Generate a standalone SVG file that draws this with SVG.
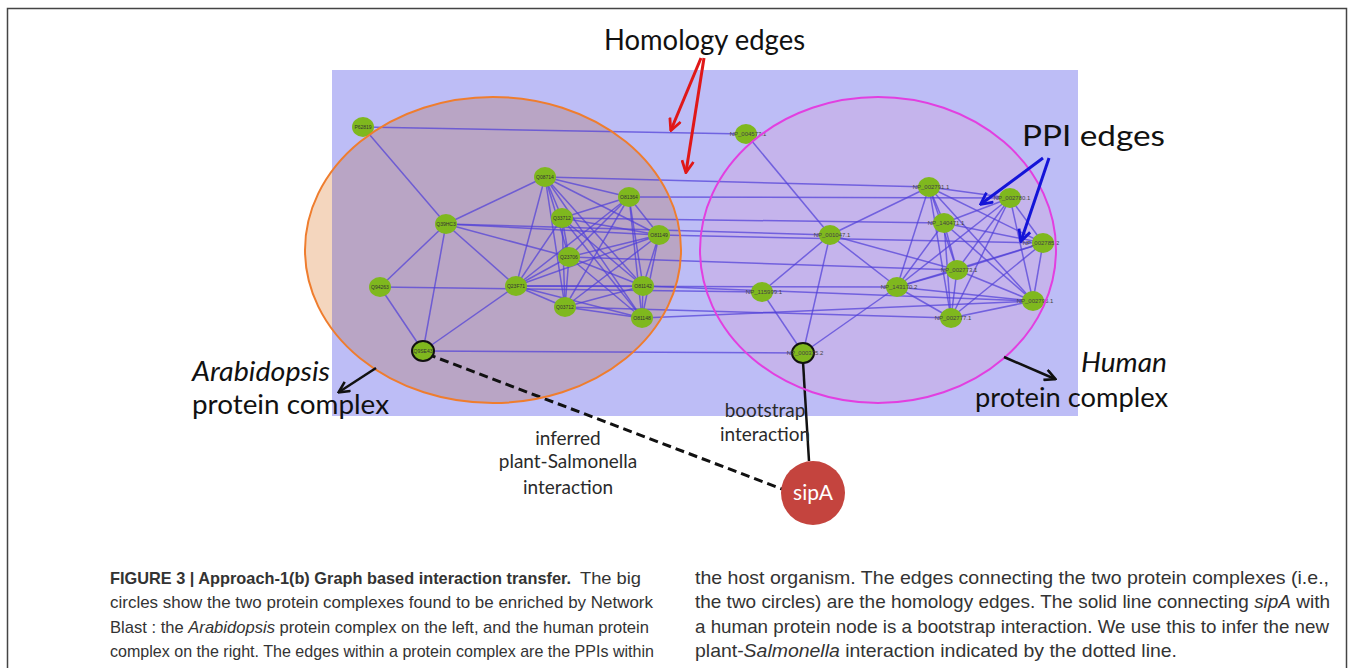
<svg xmlns="http://www.w3.org/2000/svg" width="1354" height="668" viewBox="0 0 1354 668">
  <style>
    .lbl { font-family: Lato, "Open Sans", "Liberation Sans", sans-serif; fill: #111; }
    .small { font-family: Lato, "Open Sans", "Liberation Sans", sans-serif; fill: #2a2a2a; font-size: 19px; }
    .cap { font-family: "Liberation Sans", Arial, sans-serif; font-size: 17px; fill: #333; }
    .capr { font-family: "Liberation Sans", Arial, sans-serif; font-size: 19px; fill: #333; }
    .edge { stroke: #5040d8; stroke-width: 1.5; stroke-opacity: 0.72; fill: none; }
    .node { fill: #7fb81e; }
    .hub { fill: #7fb81e; stroke: #111; stroke-width: 2; }
    .nl { font-family: "Liberation Sans", Arial, sans-serif; font-size: 5px; fill: #333; text-anchor: middle; }
    .nr { font-family: "Liberation Sans", Arial, sans-serif; font-size: 6px; fill: #444; text-anchor: middle; }
  </style>
  <defs>
    <marker id="vRed" viewBox="0 0 12 12" refX="10.5" refY="6" markerWidth="14" markerHeight="14" markerUnits="userSpaceOnUse" orient="auto">
      <path d="M1,1 L11,6 L1,11" fill="none" stroke="#e01818" stroke-width="2.4"/>
    </marker>
    <marker id="vBlue" viewBox="0 0 12 12" refX="10.5" refY="6" markerWidth="14" markerHeight="14" markerUnits="userSpaceOnUse" orient="auto">
      <path d="M1,1 L11,6 L1,11" fill="none" stroke="#1414d8" stroke-width="2.4"/>
    </marker>
    <marker id="vBlack" viewBox="0 0 12 12" refX="10.5" refY="6" markerWidth="13" markerHeight="13" markerUnits="userSpaceOnUse" orient="auto">
      <path d="M1,1 L11,6 L1,11" fill="none" stroke="#111" stroke-width="2.4"/>
    </marker>
    <clipPath id="outsideRect">
      <rect x="0" y="0" width="332" height="668"/>
    </clipPath>
  </defs>

  <rect width="1354" height="668" fill="#ffffff"/>
  <!-- page frame -->
  <rect x="7.5" y="8.5" width="1339" height="700" fill="none" stroke="#444" stroke-width="1.5"/>

  <!-- network panel background -->
  <rect id="panel" x="332" y="70" width="746" height="346" fill="#bdbdf6"/>

  <!-- complex regions (fills) -->
  <g id="arabidopsis-complex-fill">
    <ellipse cx="493" cy="250" rx="188" ry="153" fill="#b9a5c5"/>
    <ellipse cx="493" cy="250" rx="188" ry="153" fill="#f4d6be" clip-path="url(#outsideRect)"/>
  </g>
  <g id="human-complex-fill">
    <ellipse cx="878" cy="250" rx="178" ry="153" fill="#c5b4ec"/>
  </g>

  <!-- connectors -->
  <g id="connectors">
    <!-- Arabidopsis PPI edges -->
    <g id="ppi-left">
      <line class="edge" x1="363" y1="127" x2="446" y2="224"/>
      <line class="edge" x1="446" y1="224" x2="545" y2="177"/>
      <line class="edge" x1="446" y1="224" x2="659" y2="235"/>
      <line class="edge" x1="446" y1="224" x2="569" y2="257"/>
      <line class="edge" x1="446" y1="224" x2="516" y2="286"/>
      <line class="edge" x1="446" y1="224" x2="380" y2="287"/>
      <line class="edge" x1="446" y1="224" x2="423" y2="351"/>
      <line class="edge" x1="380" y1="287" x2="423" y2="351"/>
      <line class="edge" x1="516" y1="286" x2="423" y2="351"/>
      <!-- dense core -->
      <line class="edge" x1="545" y1="177" x2="629" y2="197"/>
      <line class="edge" x1="545" y1="177" x2="562" y2="218"/>
      <line class="edge" x1="545" y1="177" x2="659" y2="235"/>
      <line class="edge" x1="545" y1="177" x2="569" y2="257"/>
      <line class="edge" x1="545" y1="177" x2="516" y2="286"/>
      <line class="edge" x1="545" y1="177" x2="643" y2="286"/>
      <line class="edge" x1="545" y1="177" x2="565" y2="307"/>
      <line class="edge" x1="545" y1="177" x2="642" y2="318"/>
      <line class="edge" x1="629" y1="197" x2="562" y2="218"/>
      <line class="edge" x1="629" y1="197" x2="659" y2="235"/>
      <line class="edge" x1="629" y1="197" x2="569" y2="257"/>
      <line class="edge" x1="629" y1="197" x2="516" y2="286"/>
      <line class="edge" x1="629" y1="197" x2="643" y2="286"/>
      <line class="edge" x1="629" y1="197" x2="565" y2="307"/>
      <line class="edge" x1="629" y1="197" x2="642" y2="318"/>
      <line class="edge" x1="562" y1="218" x2="659" y2="235"/>
      <line class="edge" x1="562" y1="218" x2="569" y2="257"/>
      <line class="edge" x1="562" y1="218" x2="516" y2="286"/>
      <line class="edge" x1="562" y1="218" x2="643" y2="286"/>
      <line class="edge" x1="562" y1="218" x2="565" y2="307"/>
      <line class="edge" x1="562" y1="218" x2="642" y2="318"/>
      <line class="edge" x1="659" y1="235" x2="569" y2="257"/>
      <line class="edge" x1="659" y1="235" x2="516" y2="286"/>
      <line class="edge" x1="659" y1="235" x2="643" y2="286"/>
      <line class="edge" x1="659" y1="235" x2="565" y2="307"/>
      <line class="edge" x1="659" y1="235" x2="642" y2="318"/>
      <line class="edge" x1="569" y1="257" x2="516" y2="286"/>
      <line class="edge" x1="569" y1="257" x2="643" y2="286"/>
      <line class="edge" x1="569" y1="257" x2="565" y2="307"/>
      <line class="edge" x1="569" y1="257" x2="642" y2="318"/>
      <line class="edge" x1="516" y1="286" x2="643" y2="286"/>
      <line class="edge" x1="516" y1="286" x2="565" y2="307"/>
      <line class="edge" x1="516" y1="286" x2="642" y2="318"/>
      <line class="edge" x1="643" y1="286" x2="565" y2="307"/>
      <line class="edge" x1="643" y1="286" x2="642" y2="318"/>
      <line class="edge" x1="565" y1="307" x2="642" y2="318"/>
    </g>
    <!-- human PPI edges -->
    <g id="ppi-right">
      <line class="edge" x1="746" y1="134" x2="830" y2="235"/>
      <line class="edge" x1="830" y1="235" x2="929" y2="187"/>
      <line class="edge" x1="830" y1="235" x2="897" y2="287"/>
      <line class="edge" x1="830" y1="235" x2="762" y2="292"/>
      <line class="edge" x1="830" y1="235" x2="803" y2="353"/>
      <line class="edge" x1="830" y1="235" x2="957" y2="270"/>
      <line class="edge" x1="762" y1="292" x2="803" y2="353"/>
      <line class="edge" x1="803" y1="353" x2="897" y2="287"/>
      <!-- dense core -->
      <line class="edge" x1="929" y1="187" x2="1010" y2="198"/>
      <line class="edge" x1="929" y1="187" x2="944" y2="223"/>
      <line class="edge" x1="929" y1="187" x2="1043" y2="243"/>
      <line class="edge" x1="929" y1="187" x2="957" y2="270"/>
      <line class="edge" x1="929" y1="187" x2="897" y2="287"/>
      <line class="edge" x1="929" y1="187" x2="1033" y2="301"/>
      <line class="edge" x1="929" y1="187" x2="951" y2="318"/>
      <line class="edge" x1="1010" y1="198" x2="944" y2="223"/>
      <line class="edge" x1="1010" y1="198" x2="1043" y2="243"/>
      <line class="edge" x1="1010" y1="198" x2="957" y2="270"/>
      <line class="edge" x1="1010" y1="198" x2="897" y2="287"/>
      <line class="edge" x1="1010" y1="198" x2="1033" y2="301"/>
      <line class="edge" x1="1010" y1="198" x2="951" y2="318"/>
      <line class="edge" x1="944" y1="223" x2="1043" y2="243"/>
      <line class="edge" x1="944" y1="223" x2="957" y2="270"/>
      <line class="edge" x1="944" y1="223" x2="897" y2="287"/>
      <line class="edge" x1="944" y1="223" x2="1033" y2="301"/>
      <line class="edge" x1="944" y1="223" x2="951" y2="318"/>
      <line class="edge" x1="1043" y1="243" x2="957" y2="270"/>
      <line class="edge" x1="1043" y1="243" x2="897" y2="287"/>
      <line class="edge" x1="1043" y1="243" x2="1033" y2="301"/>
      <line class="edge" x1="1043" y1="243" x2="951" y2="318"/>
      <line class="edge" x1="957" y1="270" x2="897" y2="287"/>
      <line class="edge" x1="957" y1="270" x2="1033" y2="301"/>
      <line class="edge" x1="957" y1="270" x2="951" y2="318"/>
      <line class="edge" x1="897" y1="287" x2="1033" y2="301"/>
      <line class="edge" x1="897" y1="287" x2="951" y2="318"/>
      <line class="edge" x1="1033" y1="301" x2="951" y2="318"/>
    </g>
    <!-- homology edges between the two complexes -->
    <g id="homology">
      <line class="edge" x1="363" y1="127" x2="746" y2="134"/>
      <line class="edge" x1="545" y1="177" x2="929" y2="187"/>
      <line class="edge" x1="629" y1="197" x2="1010" y2="198"/>
      <line class="edge" x1="562" y1="218" x2="944" y2="223"/>
      <line class="edge" x1="446" y1="224" x2="830" y2="235"/>
      <line class="edge" x1="659" y1="235" x2="1043" y2="243"/>
      <line class="edge" x1="569" y1="257" x2="957" y2="270"/>
      <line class="edge" x1="380" y1="287" x2="762" y2="292"/>
      <line class="edge" x1="516" y1="286" x2="897" y2="287"/>
      <line class="edge" x1="643" y1="286" x2="1033" y2="301"/>
      <line class="edge" x1="565" y1="307" x2="951" y2="318"/>
      <line class="edge" x1="642" y1="318" x2="1033" y2="301"/>
      <line class="edge" x1="423" y1="351" x2="803" y2="353"/>
    </g>
    <!-- pathogen interactions -->
    <line id="inferred-edge" x1="427" y1="354" x2="782" y2="489" stroke="#111" stroke-width="3" stroke-dasharray="9,5"/>
    <line id="bootstrap-edge" x1="803" y1="362" x2="809" y2="461" stroke="#111" stroke-width="2.5"/>
  </g>

  <!-- Arabidopsis proteins -->
  <g id="arabidopsis-nodes">
    <g id="n-P62819"><ellipse class="node" cx="363" cy="127" rx="11" ry="10"/><text class="nl" x="363" y="129">P62819</text></g>
    <g id="n-Q39HC3"><ellipse class="node" cx="446" cy="224" rx="11" ry="10"/><text class="nl" x="446" y="226">Q39HC3</text></g>
    <g id="n-Q08714"><ellipse class="node" cx="545" cy="177" rx="11" ry="10"/><text class="nl" x="545" y="179">Q08714</text></g>
    <g id="n-O81364"><ellipse class="node" cx="629" cy="197" rx="11" ry="10"/><text class="nl" x="629" y="199">O81364</text></g>
    <g id="n-Q33712"><ellipse class="node" cx="562" cy="218" rx="11" ry="10"/><text class="nl" x="562" y="220">Q33712</text></g>
    <g id="n-O81149"><ellipse class="node" cx="659" cy="235" rx="11" ry="10"/><text class="nl" x="659" y="237">O81149</text></g>
    <g id="n-Q23706"><ellipse class="node" cx="569" cy="257" rx="11" ry="10"/><text class="nl" x="569" y="259">Q23706</text></g>
    <g id="n-Q23F71"><ellipse class="node" cx="516" cy="286" rx="11" ry="10"/><text class="nl" x="516" y="288">Q23F71</text></g>
    <g id="n-Q94263"><ellipse class="node" cx="380" cy="287" rx="11" ry="10"/><text class="nl" x="380" y="289">Q94263</text></g>
    <g id="n-O81142"><ellipse class="node" cx="643" cy="286" rx="11" ry="10"/><text class="nl" x="643" y="288">O81142</text></g>
    <g id="n-Q03712"><ellipse class="node" cx="565" cy="307" rx="11" ry="10"/><text class="nl" x="565" y="309">Q03712</text></g>
    <g id="n-O81148"><ellipse class="node" cx="642" cy="318" rx="11" ry="10"/><text class="nl" x="642" y="320">O81148</text></g>
    <g id="n-Q9SE43"><ellipse class="hub" cx="423" cy="351" rx="11" ry="10"/><text class="nl" x="423" y="353">Q9SE43</text></g>
  </g>

  <!-- human proteins -->
  <g id="human-nodes">
    <g id="n-NP_004577"><ellipse class="node" cx="746" cy="134" rx="11" ry="10"/><text class="nr" x="748" y="136">NP_004577.1</text></g>
    <g id="n-NP_002791"><ellipse class="node" cx="929" cy="187" rx="11" ry="10"/><text class="nr" x="931" y="189">NP_002791.1</text></g>
    <g id="n-NP_002780"><ellipse class="node" cx="1010" cy="198" rx="11" ry="10"/><text class="nr" x="1012" y="200">NP_002780.1</text></g>
    <g id="n-NP_140471"><ellipse class="node" cx="944" cy="223" rx="11" ry="10"/><text class="nr" x="946" y="225">NP_140471.1</text></g>
    <g id="n-NP_001047"><ellipse class="node" cx="830" cy="235" rx="11" ry="10"/><text class="nr" x="832" y="237">NP_001047.1</text></g>
    <g id="n-NP_002785"><ellipse class="node" cx="1043" cy="243" rx="11" ry="10"/><text class="nr" x="1041" y="245">NP_002785.2</text></g>
    <g id="n-NP_002773"><ellipse class="node" cx="957" cy="270" rx="11" ry="10"/><text class="nr" x="959" y="272">NP_002773.1</text></g>
    <g id="n-NP_115999"><ellipse class="node" cx="762" cy="292" rx="11" ry="10"/><text class="nr" x="764" y="294">NP_115999.1</text></g>
    <g id="n-NP_143170"><ellipse class="node" cx="897" cy="287" rx="11" ry="10"/><text class="nr" x="899" y="289">NP_143170.2</text></g>
    <g id="n-NP_002795"><ellipse class="node" cx="1033" cy="301" rx="11" ry="10"/><text class="nr" x="1035" y="303">NP_002795.1</text></g>
    <g id="n-NP_002777"><ellipse class="node" cx="951" cy="318" rx="11" ry="10"/><text class="nr" x="953" y="320">NP_002777.1</text></g>
    <g id="n-NP_000375"><ellipse class="hub" cx="803" cy="353" rx="11" ry="10"/><text class="nr" x="805" y="355">NP_000375.2</text></g>
  </g>

  <!-- complex outlines drawn over the graph -->
  <g id="arabidopsis-complex">
    <ellipse cx="493" cy="250" rx="188" ry="153" fill="none" stroke="#ef7d2e" stroke-width="2"/>
    <text class="lbl" x="192" y="381" font-size="27" font-style="italic" textLength="138" lengthAdjust="spacingAndGlyphs">Arabidopsis</text>
    <text class="lbl" x="192" y="414" font-size="27" textLength="197" lengthAdjust="spacingAndGlyphs">protein complex</text>
    <line x1="376" y1="368" x2="339" y2="392" stroke="#111" stroke-width="2.5" marker-end="url(#vBlack)"/>
  </g>
  <g id="human-complex">
    <ellipse cx="878" cy="250" rx="178" ry="153" fill="none" stroke="#e23fe0" stroke-width="2"/>
    <text class="lbl" x="1081" y="372" font-size="27" font-style="italic" textLength="86" lengthAdjust="spacingAndGlyphs">Human</text>
    <text class="lbl" x="975" y="407" font-size="27" textLength="193" lengthAdjust="spacingAndGlyphs">protein complex</text>
    <line x1="1004" y1="357" x2="1055" y2="379" stroke="#111" stroke-width="2.5" marker-end="url(#vBlack)"/>
  </g>

  <!-- callouts -->
  <g id="homology-callout">
    <text class="lbl" x="604" y="50" font-size="29" textLength="201" lengthAdjust="spacingAndGlyphs">Homology edges</text>
    <line x1="701" y1="58" x2="671" y2="130" stroke="#e01818" stroke-width="3" marker-end="url(#vRed)"/>
    <line x1="704" y1="58" x2="686" y2="172" stroke="#e01818" stroke-width="3" marker-end="url(#vRed)"/>
  </g>
  <g id="ppi-callout">
    <text class="lbl" x="1022" y="146" font-size="29" textLength="143" lengthAdjust="spacingAndGlyphs">PPI edges</text>
    <line x1="1043" y1="158" x2="981" y2="204" stroke="#1414d8" stroke-width="3" marker-end="url(#vBlue)"/>
    <line x1="1049" y1="158" x2="1021" y2="241" stroke="#1414d8" stroke-width="3" marker-end="url(#vBlue)"/>
  </g>

  <!-- Salmonella effector -->
  <g id="sipA">
    <circle cx="813" cy="493" r="32" fill="#c4443e"/>
    <text x="813" y="500" font-family="Lato, 'Open Sans', 'Liberation Sans', sans-serif" font-size="21" fill="#ffffff" text-anchor="middle">sipA</text>
  </g>
  <g id="edge-labels">
    <text class="small" x="765" y="417" text-anchor="middle">bootstrap</text>
    <text class="small" x="765" y="441" text-anchor="middle">interaction</text>
    <text class="small" x="568" y="445" text-anchor="middle">inferred</text>
    <text class="small" x="568" y="468" text-anchor="middle">plant-Salmonella</text>
    <text class="small" x="568" y="494" text-anchor="middle">interaction</text>
  </g>

  <!-- figure caption -->
  <g id="caption">
    <text class="cap" x="110" y="584" fill="#222" font-weight="bold" textLength="461" lengthAdjust="spacingAndGlyphs">FIGURE 3 | Approach-1(b) Graph based interaction transfer.</text>
    <text class="cap" x="580" y="584" textLength="61" lengthAdjust="spacingAndGlyphs">The big</text>
    <text class="cap" x="110" y="608" textLength="543" lengthAdjust="spacingAndGlyphs">circles show the two protein complexes found to be enriched by Network</text>
    <text class="cap" x="110" y="633" textLength="539" lengthAdjust="spacingAndGlyphs">Blast : the <tspan font-style="italic">Arabidopsis</tspan> protein complex on the left, and the human protein</text>
    <text class="cap" x="110" y="657" textLength="544" lengthAdjust="spacingAndGlyphs">complex on the right. The edges within a protein complex are the PPIs within</text>
    <text class="capr" x="695" y="584" textLength="634" lengthAdjust="spacingAndGlyphs">the host organism. The edges connecting the two protein complexes (i.e.,</text>
    <text class="capr" x="695" y="608" textLength="635" lengthAdjust="spacingAndGlyphs">the two circles) are the homology edges. The solid line connecting <tspan font-style="italic">sipA</tspan> with</text>
    <text class="capr" x="695" y="633" textLength="634" lengthAdjust="spacingAndGlyphs">a human protein node is a bootstrap interaction. We use this to infer the new</text>
    <text class="capr" x="695" y="657" textLength="482" lengthAdjust="spacingAndGlyphs">plant-<tspan font-style="italic">Salmonella</tspan> interaction indicated by the dotted line.</text>
  </g>
</svg>
